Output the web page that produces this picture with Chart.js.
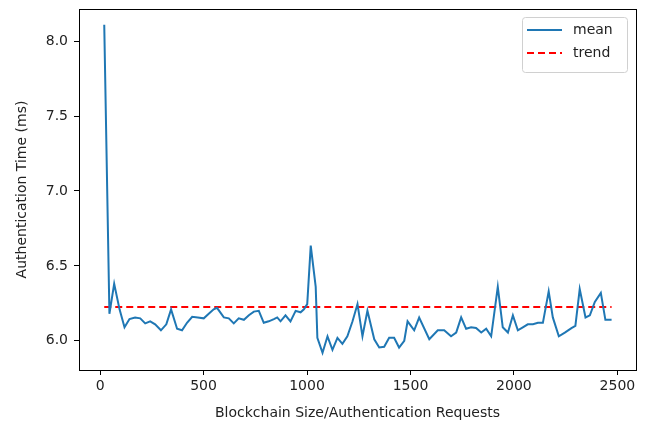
<!DOCTYPE html>
<html>
<head>
<meta charset="utf-8">
<script src="https://cdn.jsdelivr.net/npm/chart.js@4"></script>
<style>
  html, body { margin: 0; padding: 0; background: #fff; }
  #wrap { width: 647px; height: 422px; }
</style>
</head>
<body>
<div id="wrap"><canvas id="authChart" width="647" height="422"></canvas></div>
<script>
// blockchain size (x) and mean authentication time
const sizes = [20, 45, 68, 94, 118, 142, 169, 194, 218, 242, 266, 294, 320, 343, 372, 396, 420, 445, 472, 501,
  525, 549, 565, 598, 622, 646, 670, 695, 719, 743, 767, 791, 815, 840, 856, 872, 896, 920, 945, 969,
  985, 1001, 1018, 1042, 1050, 1075, 1099, 1123, 1147, 1171, 1195, 1220, 1244, 1268, 1292, 1325, 1349, 1373, 1397, 1421,
  1445, 1470, 1486, 1518, 1542, 1591, 1632, 1663, 1696, 1721, 1745, 1769, 1793, 1817, 1842, 1866, 1890, 1922, 1946, 1971,
  1995, 2019, 2043, 2067, 2092, 2116, 2140, 2168, 2188, 2217, 2246, 2278, 2297, 2318, 2346, 2367, 2391, 2420, 2442, 2472];
const meanTimes = [8.11, 6.18, 6.38, 6.21, 6.09, 6.145, 6.156, 6.15, 6.116, 6.13, 6.11, 6.07, 6.11, 6.21, 6.08, 6.07, 6.12, 6.16, 6.156, 6.15,
  6.18, 6.21, 6.22, 6.156, 6.15, 6.116, 6.15, 6.14, 6.17, 6.195, 6.20, 6.12, 6.13, 6.145, 6.156, 6.13, 6.17, 6.13, 6.20, 6.19,
  6.21, 6.245, 6.635, 6.36, 6.02, 5.92, 6.03, 5.94, 6.02, 5.98, 6.03, 6.13, 6.245, 6.03, 6.20, 6.01, 5.955, 5.96, 6.02, 6.02,
  5.955, 6.00, 6.13, 6.07, 6.155, 6.01, 6.07, 6.07, 6.03, 6.055, 6.156, 6.08, 6.09, 6.085, 6.055, 6.08, 6.03, 6.36, 6.09, 6.055,
  6.17, 6.07, 6.09, 6.11, 6.11, 6.12, 6.12, 6.33, 6.156, 6.03, 6.055, 6.085, 6.10, 6.345, 6.156, 6.17, 6.26, 6.32, 6.14, 6.14];
const trendSizes = [20, 2472];
const trendTimes = [6.225, 6.225];
const xTicks = [0, 500, 1000, 1500, 2000, 2500];
const yTicks = [6.0, 6.5, 7.0, 7.5, 8.0];
const seriesNames = ["mean", "trend"];

const textColor = "#222";
const fontFamily = "'DejaVu Sans', sans-serif";

// box around the plot area (matplotlib style spines)
const frameBox = {
  id: "frameBox",
  afterDraw(chart) {
    const a = chart.chartArea;
    const ctx = chart.ctx;
    ctx.save();
    ctx.strokeStyle = "#000";
    ctx.lineWidth = 1;
    ctx.strokeRect(Math.round(a.left) + 0.5, Math.round(a.top) + 0.5,
      Math.round(a.right - a.left), Math.round(a.bottom - a.top));
    ctx.restore();
  },
};

// legend box in the upper right corner
const cornerLegend = {
  id: "cornerLegend",
  afterDraw(chart) {
    const a = chart.chartArea;
    const ctx = chart.ctx;
    const boxW = 105, boxH = 55;
    const bx = a.right - 9 - boxW;
    const by = a.top + 8;
    ctx.save();
    ctx.fillStyle = "rgba(255,255,255,0.85)";
    ctx.strokeStyle = "#d0d0d0";
    ctx.lineWidth = 1;
    ctx.beginPath();
    ctx.roundRect(bx + 0.5, by + 0.5, boxW, boxH, 3);
    ctx.fill();
    ctx.stroke();
    ctx.font = "14px " + fontFamily;
    ctx.textBaseline = "middle";
    chart.data.datasets.forEach((ds, i) => {
      const ly = by + 13 + i * 23;
      ctx.strokeStyle = ds.borderColor;
      ctx.lineWidth = 2;
      ctx.setLineDash(ds.borderDash || []);
      ctx.beginPath();
      ctx.moveTo(bx + 5, ly);
      ctx.lineTo(bx + 40, ly);
      ctx.stroke();
      ctx.setLineDash([]);
      ctx.fillStyle = textColor;
      ctx.fillText(seriesNames[i], bx + 51, ly);
    });
    ctx.restore();
  },
};

const ctx = document.getElementById("authChart").getContext("2d");
new Chart(ctx, {
  type: "line",
  data: {
    datasets: [
      {
        label: seriesNames[0],
        data: sizes.map((s, i) => ({ x: s, y: meanTimes[i] })),
        borderColor: "#1f77b4",
        borderWidth: 2,
        pointRadius: 0,
        tension: 0,
        fill: false,
      },
      {
        label: seriesNames[1],
        data: trendSizes.map((s, i) => ({ x: s, y: trendTimes[i] })),
        borderColor: "#ff0000",
        borderWidth: 2,
        borderDash: [7, 4],
        pointRadius: 0,
        fill: false,
      },
    ],
  },
  options: {
    responsive: false,
    animation: false,
    layout: { padding: { top: 9, right: 11, left: 0, bottom: 0 } },
    plugins: {
      legend: { display: false },
      tooltip: { enabled: false },
    },
    scales: {
      x: {
        type: "linear",
        min: -102,
        max: 2590,
        afterBuildTicks: (scale) => {
          scale.ticks = xTicks.map((v) => ({ value: v }));
        },
        afterFit: (scale) => {
          scale.height = 52;
          scale.paddingLeft = 0;
          scale.paddingRight = 0;
        },
        grid: {
          drawOnChartArea: false,
          drawTicks: true,
          tickLength: 5,
          tickColor: "#000",
        },
        border: { color: "#000" },
        ticks: {
          color: textColor,
          font: { family: fontFamily, size: 14 },
          padding: 3,
          maxRotation: 0,
          callback: (v) => String(v),
        },
        title: {
          display: true,
          text: "Blockchain Size/Authentication Requests",
          color: textColor,
          font: { family: fontFamily, size: 14 },
          padding: { top: 2, bottom: 0 },
        },
      },
      y: {
        type: "linear",
        min: 5.805,
        max: 8.215,
        afterBuildTicks: (scale) => {
          scale.ticks = yTicks.map((v) => ({ value: v }));
        },
        afterFit: (scale) => {
          scale.width = 79;
          scale.paddingTop = 0;
          scale.paddingBottom = 0;
        },
        grid: {
          drawOnChartArea: false,
          drawTicks: true,
          tickLength: 5,
          tickColor: "#000",
        },
        border: { color: "#000" },
        ticks: {
          color: textColor,
          font: { family: fontFamily, size: 14 },
          padding: 6,
          callback: (v) => Number(v).toFixed(1),
        },
        title: {
          display: true,
          text: "Authentication Time (ms)",
          color: textColor,
          font: { family: fontFamily, size: 14 },
          padding: { top: 14, bottom: 0 },
        },
      },
    },
  },
  plugins: [frameBox, cornerLegend],
});
</script>
</body>
</html>
